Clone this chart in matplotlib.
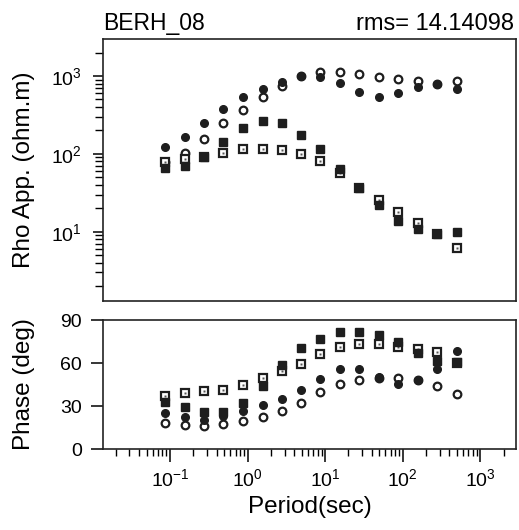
import numpy as np
import matplotlib
matplotlib.use("Agg")
import matplotlib.pyplot as plt
from matplotlib.ticker import LogLocator, FixedLocator, NullFormatter

plt.rcParams['font.family'] = ['Liberation Sans', 'DejaVu Sans']
plt.rcParams['mathtext.fontset'] = 'custom'
plt.rcParams['mathtext.rm'] = 'Liberation Sans'
plt.rcParams['mathtext.it'] = 'Liberation Sans'

# periods (sec)
period = [0.0875, 0.156, 0.277, 0.49, 0.87, 1.56, 2.77, 4.9,
          8.7, 15.6, 27.7, 49, 87, 156, 277, 500]

# apparent resistivity (ohm.m)
rho_fc = [124, 163, 247, 373, 542, 674, 845, 1000,
          961, 806, 617, 542, 611, 730, 789, 674]      # filled circles
rho_oc = [79, 104, 155, 251, 366, 532, 751, 1000,
          1136, 1136, 1050, 980, 915, 863, 800, 863]   # open circles
rho_fs = [65, 70, 91, 143, 213, 267, 249, 175,
          114, 64, 37, 22, 13.8, 10.7, 9.3, 9.8]       # filled squares
rho_os = [79, 85, 91, 102, 114, 114, 113, 100,
          81, 56, 37, 25.5, 18.1, 13.1, 9.3, 6.1]      # open squares

# phase (deg)
ph_fc = [24.9, 22.2, 20.5, 22.8, 26.4, 30.7, 35.2, 41.5,
         49.1, 56.1, 56.0, 49.9, 45.3, 48.0, 56.0, 68.5]
ph_oc = [17.9, 16.8, 16.1, 17.2, 19.5, 22.6, 26.6, 32.3,
         39.7, 45.3, 48.2, 49.5, 49.8, 48.0, 44.2, 38.6]
ph_fs = [32.5, 29.1, 25.5, 25.7, 32.3, 44.2, 58.6, 70.8,
         76.9, 81.8, 81.8, 79.8, 74.6, 67.2, 61.1, 60.4]
ph_os = [37.0, 39.1, 40.8, 41.5, 44.7, 49.2, 54.1, 59.5,
         66.3, 71.5, 73.5, 73.3, 71.2, 70.1, 67.4, 60.0]

dark = '#1e1e1e'
xlim = (0.0137, 2900)

fig = plt.figure(figsize=(5.19, 5.30), dpi=100)
ax1 = fig.add_axes([0.1985, 0.4321, 0.7958, 0.4943])
ax2 = fig.add_axes([0.1985, 0.1528, 0.7958, 0.2434])


def draw(ax, oc, os_, fs, fc):
    ax.plot(period, oc, 'o', ms=5.5, mfc='white', mec=dark, mew=1.6, ls='none')
    ax.plot(period, os_, 's', ms=6.3, mfc='white', mec=dark, mew=1.6, ls='none')
    ax.plot(period, os_, 's', ms=1.5, mfc='#555555', mec='none', ls='none')
    ax.plot(period, fs, 's', ms=6.3, mfc=dark, mec=dark, ls='none')
    ax.plot(period, fc, 'o', ms=5.5, mfc=dark, mec=dark, ls='none')


draw(ax1, rho_oc, rho_os, rho_fs, rho_fc)
draw(ax2, ph_oc, ph_os, ph_fs, ph_fc)

for ax in (ax1, ax2):
    ax.set_xscale('log')
    ax.set_xlim(*xlim)
    for s in ax.spines.values():
        s.set_linewidth(1.2)
        s.set_color('#222222')

# top panel
ax1.set_yscale('log')
ax1.set_ylim(1.29, 2990)
ax1.yaxis.set_major_locator(FixedLocator([10, 100, 1000]))
ax1.yaxis.set_minor_locator(LogLocator(base=10, subs=np.arange(2, 10)))
ax1.yaxis.set_minor_formatter(NullFormatter())
ax1.tick_params(axis='x', which='both', bottom=False, labelbottom=False)
ax1.tick_params(axis='y', which='major', direction='out', length=7, width=1.1, labelsize=14, pad=8)
ax1.tick_params(axis='y', which='minor', direction='out', length=6, width=1.0)
ax1.set_ylabel('Rho App. (ohm.m)', fontsize=17.5)
ax1.yaxis.set_label_coords(-0.165, 0.5)
ax1.text(0.0, 1.015, 'BERH_08', transform=ax1.transAxes, fontsize=16.5,
         ha='left', va='bottom')
ax1.text(0.995, 1.015, 'rms= 14.14098', transform=ax1.transAxes, fontsize=17,
         ha='right', va='bottom')

# bottom panel
ax2.set_ylim(0, 90)
ax2.set_yticks([0, 30, 60, 90])
ax2.xaxis.set_major_locator(FixedLocator([0.1, 1, 10, 100, 1000]))
ax2.xaxis.set_minor_locator(LogLocator(base=10, subs=np.arange(2, 10), numticks=20))
ax2.xaxis.set_minor_formatter(NullFormatter())
ax2.tick_params(axis='x', which='major', direction='out', length=9, width=1.1, labelsize=14, pad=5)
ax2.tick_params(axis='x', which='minor', direction='out', length=5, width=1.0)
ax2.tick_params(axis='y', which='major', direction='out', length=9, width=1.1, labelsize=14, pad=6)
ax2.set_ylabel('Phase (deg)', fontsize=17.5)
ax2.yaxis.set_label_coords(-0.165, 0.5)
ax2.set_xlabel('Period(sec)', fontsize=17.5, labelpad=4)

fig.savefig('out.png', dpi=100)
